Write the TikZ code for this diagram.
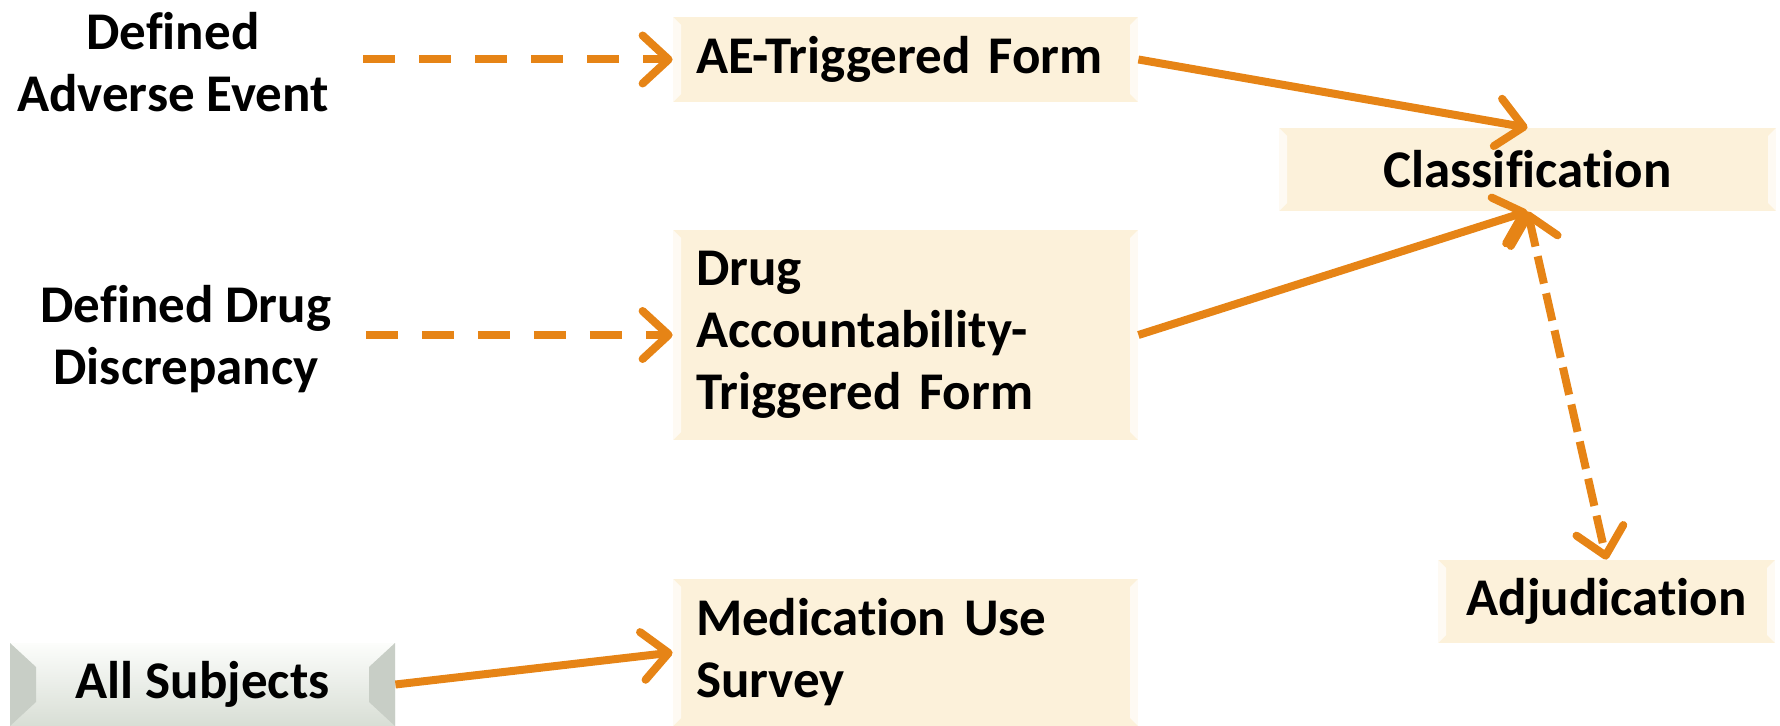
\documentclass[tikz,border=0pt]{standalone}
\usepackage{fontspec}
\setmainfont{Carlito}[Ligatures={NoCommon}]
\usetikzlibrary{arrows.meta}
\definecolor{linkorange}{RGB}{230,132,22}
\definecolor{formfill}{RGB}{252,241,218}
\definecolor{subjtop}{RGB}{252,253,251}
\definecolor{subjbot}{RGB}{216,222,213}
\definecolor{subjside}{RGB}{200,206,198}

\begin{document}
\begin{tikzpicture}[x=0.5pt,y=-0.5pt,
    every node/.style={font=\fontsize{26.5}{31}\selectfont\bfseries},
    formbox/.style={fill=formfill, inner xsep=11.5pt, inner ysep=0pt,
      path picture={
        \fill[white,opacity=0.7] (path picture bounding box.north west) -- ++(4pt,-4pt)
          -- ([shift={(4pt,4pt)}]path picture bounding box.south west) -- (path picture bounding box.south west) -- cycle;
        \fill[white,opacity=0.7] (path picture bounding box.north east) -- ++(-4pt,-4pt)
          -- ([shift={(-4pt,4pt)}]path picture bounding box.south east) -- (path picture bounding box.south east) -- cycle;}},
    leftbox/.style={formbox, text width=209.5pt, align=left},
    midbox/.style={formbox, minimum height=41.5pt, align=center},
    subjbox/.style={top color=subjtop, bottom color=subjbot, minimum width=192.5pt, minimum height=41.5pt,
      path picture={
        \fill[subjside] (path picture bounding box.north west) -- ++(13pt,-12pt)
          -- ([shift={(13pt,12pt)}]path picture bounding box.south west) -- (path picture bounding box.south west) -- cycle;
        \fill[subjside] (path picture bounding box.north east) -- ++(-13pt,-12pt)
          -- ([shift={(-13pt,12pt)}]path picture bounding box.south east) -- (path picture bounding box.south east) -- cycle;}},
    textlabel/.style={align=center, inner xsep=17pt},
    barb/.tip={Straight Barb[length=13pt,width=24pt,line width=4pt,round]},
    linkarrow/.style={draw=linkorange, line width=4pt, -barb},
    dasharrow/.style={linkarrow, dash pattern=on 16pt off 12pt}]
  \useasboundingbox (0,0) rectangle (1780,726);

  % forms
  \node[leftbox, minimum height=42.5pt] (ae) at (905.5,59.5) {AE-Triggered Form};
  \node[leftbox, minimum height=105pt] (drug) at (905.5,335) {Drug\\Accountability-\\Triggered Form};
  \node[leftbox, minimum height=73.5pt] (med) at (905.5,652.5) {Medication Use\\Survey};

  \node[midbox, minimum width=248.5pt] (cls) at (1527.5,169.5) {Classification};
  \node[midbox, minimum width=168.5pt] (adj) at (1606.5,601.5) {Adjudication};

  \node[subjbox] (all) at (202.5,684.5) {All Subjects};

  % triggers
  \node[textlabel] (adverse) at (173,62) {Defined\\Adverse Event};
  \node[textlabel] (discrep) at (186,339) {Defined Drug\\Discrepancy};

  \draw[dasharrow] (adverse.east |- ae.west) -- (ae.west);
  \draw[dasharrow] (discrep.east |- drug.west) -- (drug.west);
  \draw[linkarrow] (all.east) -- (med.west);
  \draw[linkarrow] (ae.east) -- (cls.north);
  \draw[linkarrow] (drug.east) -- (cls.south);
  \draw[linkarrow, barb-barb, dash pattern=on 14pt off 5pt] (cls.south) -- (adj.north);
\end{tikzpicture}
\end{document}
